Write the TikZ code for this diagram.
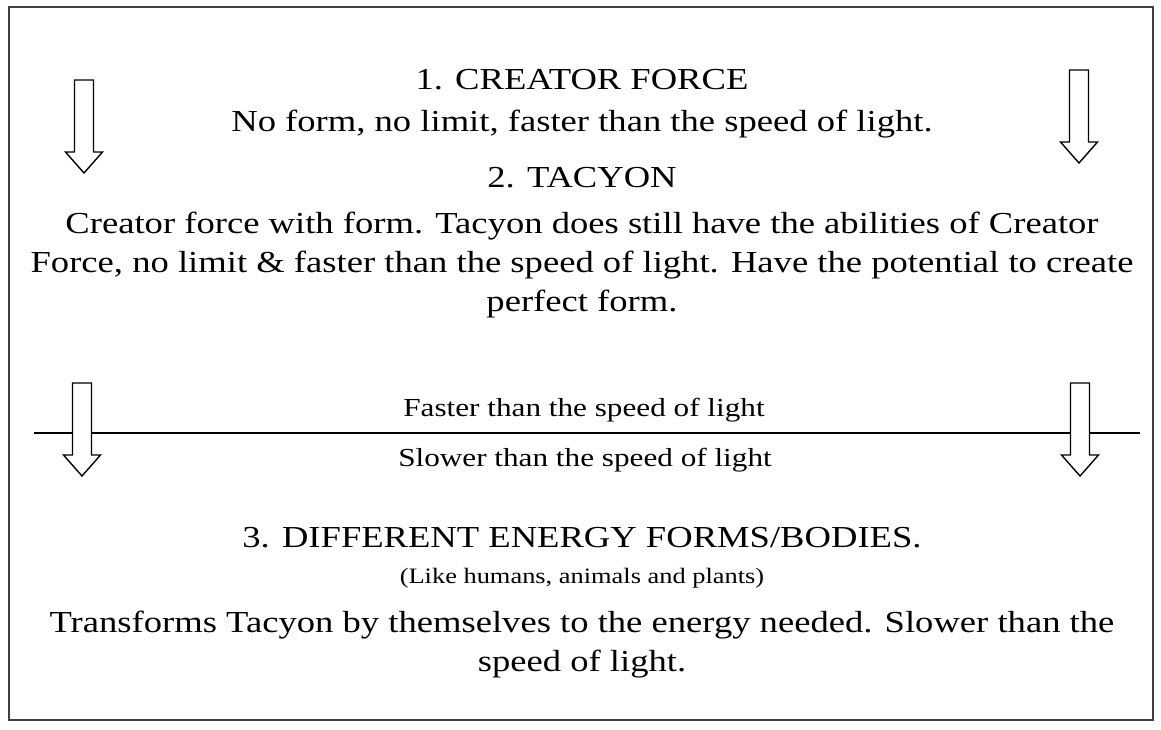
\documentclass[tikz,border=0pt]{standalone}
\usepackage{fontspec}
\setmainfont[FakeStretch=1.2]{Liberation Serif}
\begin{document}
\begin{tikzpicture}[x=1pt,y=-1pt]
	\tikzset{
		big/.style={font=\fontsize{30.5}{39}\selectfont, anchor=base, inner sep=0pt},
		small/.style={font=\fontsize{26}{30}\selectfont, anchor=base, inner sep=0pt},
		note/.style={font=\fontsize{22}{26}\selectfont, anchor=base, inner sep=0pt},
		hollow/.pic={\draw[line width=1.4pt, fill=white, line join=miter]
			(-9.5,0) -- (9.5,0) -- (9.5,72) -- (18.5,72) -- (0,93) -- (-18.5,72) -- (-9.5,72) -- cycle;}
	}
	\useasboundingbox (0,0) rectangle (1161,729);

	% Frame
	\draw[line width=2pt, black!75] (9,7) rectangle (1153,720);

	% Light barrier
	\coordinate (barL) at (34,433);
	\coordinate (barR) at (1140,433);
	\draw[line width=1.5pt] (barL) -- (barR);

	% Hollow arrows, upper pair and lower pair
	\pic at (84,80) {hollow};
	\pic at (1079,70) {hollow};
	\pic at (82,383) {hollow};
	\pic at (1080,383) {hollow};

	% 1. Creator force
	\node[big] (creator) at (582,89) {1. CREATOR FORCE};
	\node[big] (creatorTxt) at (582,131) {No form, no limit, faster than the speed of light.};

	% 2. Tacyon
	\node[big] (tacyon) at (582,187) {2. TACYON};
	\node[big] (tacyonA) at (582,233) {Creator force with form. Tacyon does still have the abilities of Creator};
	\node[big] (tacyonB) at (582,272) {Force, no limit \& faster than the speed of light. Have the potential to create};
	\node[big] (tacyonC) at (582,311) {perfect form.};

	% Barrier labels
	\node[small] (faster) at (584,416) {Faster than the speed of light};
	\node[small] (slower) at (585,466) {Slower than the speed of light};

	% 3. Energy forms
	\node[big] (energy) at (582,547) {3. DIFFERENT ENERGY FORMS/BODIES.};
	\node[note] (like) at (582,583) {(Like humans, animals and plants)};
	\node[big] (energyA) at (582,632) {Transforms Tacyon by themselves to the energy needed. Slower than the};
	\node[big] (energyB) at (582,671) {speed of light.};
\end{tikzpicture}
\end{document}
